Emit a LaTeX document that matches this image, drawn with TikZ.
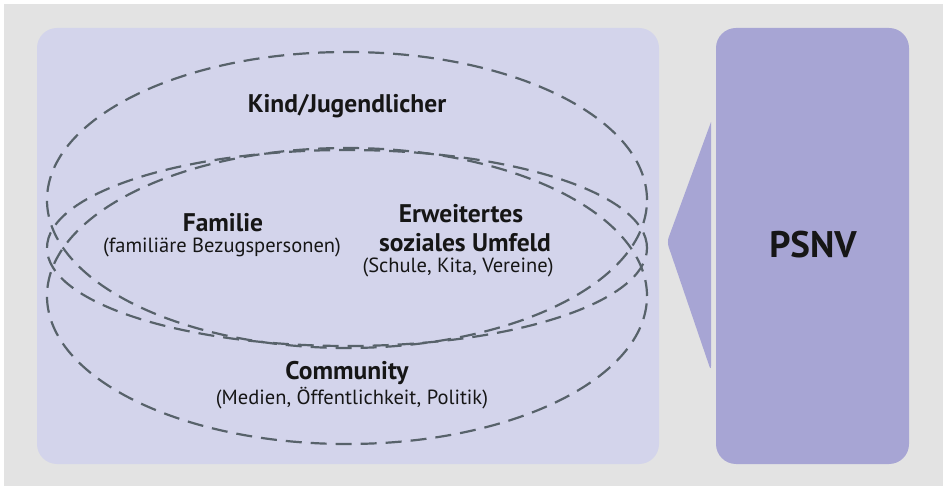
\documentclass[tikz,border=0pt]{standalone}
\usepackage{fontspec}
\setmainfont{PT Sans}
\definecolor{bggray}{HTML}{E3E3E3}
\definecolor{panelL}{HTML}{D3D4EB}
\definecolor{panelR}{HTML}{A7A5D4}
\definecolor{dashc}{HTML}{57626A}
\definecolor{txt}{HTML}{161616}
\tikzset{
  ring/.style={draw=dashc, line width=2.2pt, dash pattern=on 16pt off 9pt},
  headtxt/.style={font=\fontsize{25.5}{30}\selectfont\bfseries, text=txt, anchor=base, inner sep=0pt},
  subtxt/.style={font=\fontsize{20.5}{24}\selectfont, text=txt, anchor=base, inner sep=0pt},
}
\begin{document}
\begin{tikzpicture}[x=1pt,y=-1pt]
\useasboundingbox (0,0) rectangle (943,486);
\fill[white] (0,0) rectangle (943,486);
\fill[bggray] (4,4) rectangle (943,486);
% panels
\fill[panelL, rounded corners=20pt] (37,28) rectangle (659,464);
\fill[panelR, rounded corners=20pt] (716,28) rectangle (909,464);
\fill[panelR, rounded corners=5pt] (711,122) -- (667,242) -- (711,371) [sharp corners] -- cycle;
% rings
\draw[ring] (347,200) ellipse [x radius=300pt, y radius=148pt];
\draw[ring] (347,296) ellipse [x radius=300pt, y radius=148pt];
\draw[ring] (347,248) ellipse [x radius=300pt, y radius=98pt];
% texts
\node[headtxt] (kind) at (347,113) {Kind/Jugendlicher};
\node[headtxt] (fam) at (223,232) {Familie};
\node[subtxt] (famsub) at (222,253) {(familiäre Bezugspersonen)};
\node[headtxt] (erw1) at (461,223) {Erweitertes};
\node[headtxt] (erw2) at (465,252) {soziales Umfeld};
\node[subtxt] (erwsub) at (458,273) {(Schule, Kita, Vereine)};
\node[headtxt] (com) at (347,380) {Community};
\node[subtxt] (comsub) at (352,404) {(Medien, Öffentlichkeit, Politik)};
\node[font=\fontsize{37}{40}\selectfont\bfseries, text=txt, anchor=base, inner sep=0pt] (psnv) at (813,258) {PSNV};
\end{tikzpicture}
\end{document}
